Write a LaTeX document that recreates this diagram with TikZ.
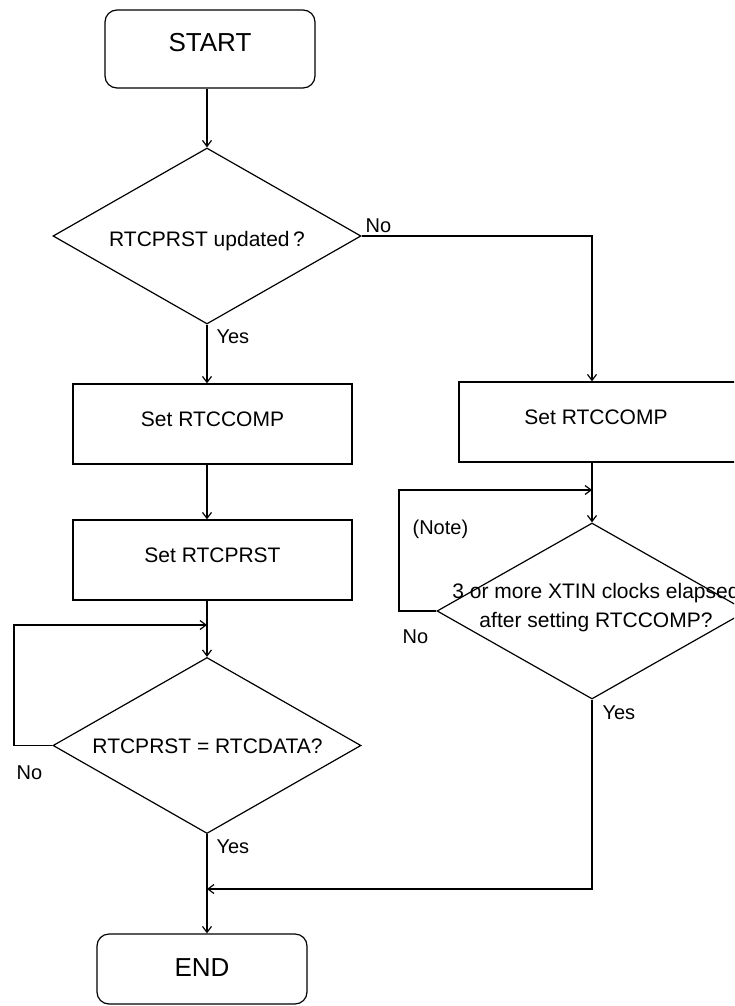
\documentclass[tikz,border=0pt]{standalone}
\usepackage{fontspec}
\setmainfont{Liberation Sans}
\usetikzlibrary{arrows.meta,shapes.geometric}
\begin{document}
\begin{tikzpicture}[x=1pt,y=-1pt,
  line width=1.2pt,
  arr/.style={-{Straight Barb[length=6pt,width=9pt]}},
  term/.style={draw, rounded corners=12pt, minimum width=210pt, inner sep=0pt},
  box/.style={draw, minimum width=279pt, minimum height=80pt, inner sep=0pt},
  dec/.style={draw, diamond, inner sep=0pt, minimum width=308pt, minimum height=176pt},
  txt/.style={font=\fontsize{21}{25}\selectfont, inner sep=0pt},
  big/.style={font=\fontsize{26}{30}\selectfont, inner sep=0pt},
  lab/.style={font=\fontsize{20}{24}\selectfont, inner sep=0pt, anchor=west}]
\useasboundingbox (0,0) rectangle (734,1006);
\clip (0,0) rectangle (734,1006);

% left column
\node[term, minimum height=78pt] (start) at (210,49) {};
\node[big] (tstart) at (210,43) {START};
\node[dec] (d1) at (207,236) {};
\node[txt, anchor=base] (td1) at (207,246) {RTCPRST updated\,?};
\node[box] (b1) at (212.5,424) {};
\node[txt] (tb1) at (212.5,419) {Set RTCCOMP};
\node[box] (b3) at (212.5,560) {};
\node[txt] (tb3) at (212.5,555) {Set RTCPRST};
\node[dec] (d3) at (207,745.5) {};
\node[txt, anchor=base] (td3) at (207.5,753) {RTCPRST = RTCDATA?};
\node[term, minimum height=70pt] (end) at (202,969) {};
\node[big] (tend) at (202,968) {END};

% right column
\node[box] (b2) at (598.5,422) {};
\node[txt] (tb2) at (596,417) {Set RTCCOMP};
\node[dec, minimum width=310pt] (d2) at (592,611) {};
\node[txt, anchor=base] (td2a) at (596,598) {3 or more XTIN clocks elapsed};
\node[txt, anchor=base] (td2b) at (596,627) {after setting RTCCOMP?};

\coordinate (lp3) at (14,625);
\coordinate (lp2) at (399,490);
\coordinate (mg) at (592,889);

% connectors
\draw[arr] (d1.north |- start.south) -- (d1.north);
\draw[arr] (d1.east) -- (d1.east -| d2.north) -- (d2.north |- b2.north);
\draw[arr] (d1.south) -- (d1.south |- b1.north);
\draw[arr] (d1.south |- b1.south) -- (d1.south |- b3.north);
\draw[arr] (d1.south |- b3.south) -- (d3.north);
\draw[arr] (d3.west) -- (d3.west -| lp3) -- (lp3) -- (lp3 -| d3.north);
\draw[arr] (d3.south) -- (d3.south |- end.north);
\draw[arr] (d2.north |- b2.south) -- (d2.north);
\draw[arr] (d2.west) -- (d2.west -| lp2) -- (lp2) -- (lp2 -| d2.north);
\draw[arr] (d2.south) -- (mg) -- (mg -| d3.south);

% labels
\node[lab] (no1) at (365,226) {No};
\node[lab] (yes1) at (216,337) {Yes};
\node[lab] (no3) at (16,773) {No};
\node[lab] (yes3) at (216,847) {Yes};
\node[lab] (note) at (412,529) {(Note)};
\node[lab] (no2) at (402,637) {No};
\node[lab] (yes2) at (602,713) {Yes};
\end{tikzpicture}
\end{document}
